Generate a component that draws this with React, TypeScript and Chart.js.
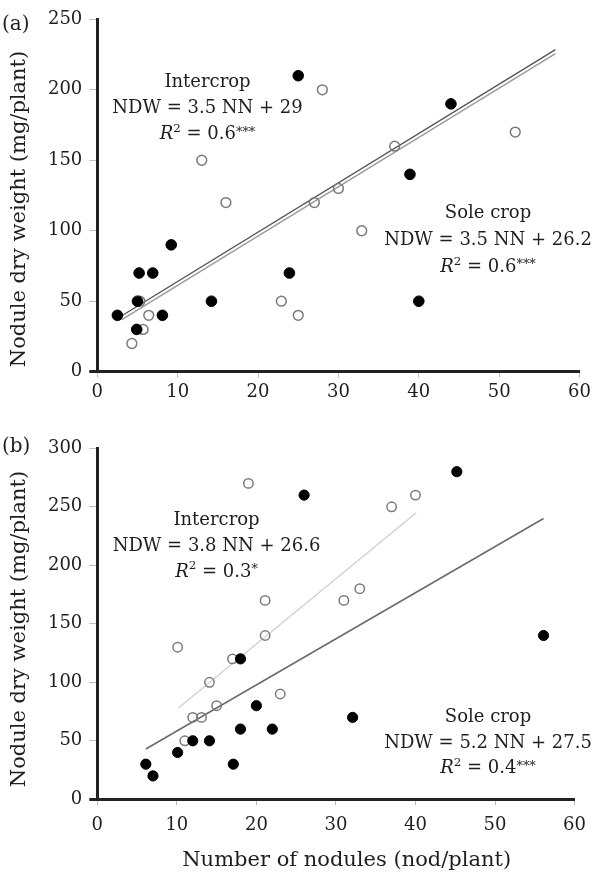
import React, { useEffect, useRef } from "react";
import { Chart, registerables } from "chart.js";
Chart.register(...registerables);

// ---------- data: panel (a) ----------
const aFilledX = [2.5, 5.2, 6.9, 9.2, 5.0, 4.9, 8.1, 14.2, 23.9, 25.0, 44.0, 38.9, 40.0];
const aFilledY = [40, 70, 70, 90, 50, 30, 40, 50, 70, 210, 190, 140, 50];
const aOpenX = [28.0, 13.0, 16.0, 27.0, 30.0, 5.3, 6.4, 5.7, 4.3, 22.9, 25.0, 37.0, 52.0, 32.9];
const aOpenY = [200, 150, 120, 120, 130, 50, 40, 30, 20, 50, 40, 160, 170, 100];
const aLineX = [3, 57];
const aInterLineY = [39.5, 228.5];
const aSoleLineY = [36.7, 225.7];

// ---------- data: panel (b) ----------
const bFilledX = [6.1, 7.0, 10.1, 12.0, 14.1, 18.0, 17.1, 20.0, 22.0, 18.0, 45.2, 56.1, 32.1, 26.0];
const bFilledY = [30, 20, 40, 50, 50, 60, 30, 80, 60, 120, 280, 140, 70, 260];
const bOpenX = [10.1, 17.0, 14.1, 15.0, 12.0, 13.1, 11.0, 21.1, 23.0, 21.1, 31.0, 19.0, 33.0, 37.0, 40.0];
const bOpenY = [130, 120, 100, 80, 70, 70, 50, 140, 90, 170, 170, 270, 180, 250, 260];
const bLightLineX = [10.2, 40.1];
const bLightLineY = [78, 245];
const bDarkLineX = [6.1, 56.1];
const bDarkLineY = [43, 240];

// ---------- ticks & text ----------
const xTicks = [0, 10, 20, 30, 40, 50, 60];
const yTicksA = [0, 50, 100, 150, 200, 250];
const yTicksB = [0, 50, 100, 150, 200, 250, 300];
const yTitle = "Nodule dry weight (mg/plant)";
const xTitle = "Number of nodules (nod/plant)";
const intercropA = ["Intercrop", "NDW = 3.5 NN + 29", "0.6", "***"];
const soleA = ["Sole crop", "NDW = 3.5 NN + 26.2", "0.6", "***"];
const intercropB = ["Intercrop", "NDW = 3.8 NN + 26.6", "0.3", "*"];
const soleB = ["Sole crop", "NDW = 5.2 NN + 27.5", "0.4", "***"];

const FONT = "'DejaVu Serif', serif";
const INK = "#1e1e1e";

type Seg = { t: string; it?: boolean; sup?: number; scale?: number };

function segFont(s: Seg, size: number) {
  const sz = s.scale ? size * s.scale : size;
  return `${s.it ? "italic " : ""}${sz}px ${FONT}`;
}

function drawSegs(ctx: CanvasRenderingContext2D, segs: Seg[], cx: number, base: number, size: number) {
  const widths = segs.map((s) => {
    ctx.font = segFont(s, size);
    return ctx.measureText(s.t).width;
  });
  const total = widths.reduce((a, b) => a + b, 0);
  let x = cx - total / 2;
  segs.forEach((s, i) => {
    ctx.font = segFont(s, size);
    ctx.fillText(s.t, x, base - (s.sup ? s.sup * size : 0));
    x += widths[i];
  });
}

function eqBlock(info: string[]): Seg[][] {
  return [
    [{ t: info[0] }],
    [{ t: info[1] }],
    [
      { t: "R", it: true },
      { t: "2", sup: 0.4, scale: 0.66 },
      { t: " = " + info[2] },
      { t: info[3], sup: 0.18, scale: 0.72 },
    ],
  ];
}

type Block = { segs: Seg[][]; cx: number; base: number; step: number };

type PanelCfg = {
  tag: string;
  tagBase: number;
  height: number;
  padTop: number;
  plotBottom: number;
  xTickPad: number;
  yTicks: number[];
  filled: { x: number; y: number }[];
  open: { x: number; y: number }[];
  lines: { pts: { x: number; y: number }[]; color: string; width: number }[];
  blocks: Block[];
  showXTitle: boolean;
  pointR: number;
};

const zip = (xs: number[], ys: number[]) => xs.map((x, i) => ({ x, y: ys[i] }));

const panelA: PanelCfg = {
  tag: "(a)",
  tagBase: 30,
  height: 420,
  padTop: 19.3,
  plotBottom: 371.7,
  xTickPad: 4,
  yTicks: yTicksA,
  filled: zip(aFilledX, aFilledY),
  open: zip(aOpenX, aOpenY),
  lines: [
    { pts: zip(aLineX, aSoleLineY), color: "#9a9a9a", width: 1.4 },
    { pts: zip(aLineX, aInterLineY), color: "#555555", width: 1.4 },
  ],
  blocks: [
    { segs: eqBlock(intercropA), cx: 207.5, base: 87, step: 26.2 },
    { segs: eqBlock(soleA), cx: 488, base: 218.3, step: 26.7 },
  ],
  showXTitle: false,
  pointR: 5.3,
};

const panelB: PanelCfg = {
  tag: "(b)",
  tagBase: 31.7,
  height: 455,
  padTop: 28.3,
  plotBottom: 379.3,
  xTickPad: 9,
  yTicks: yTicksB,
  filled: zip(bFilledX, bFilledY),
  open: zip(bOpenX, bOpenY),
  lines: [
    { pts: zip(bLightLineX, bLightLineY), color: "#cfcfcf", width: 1.3 },
    { pts: zip(bDarkLineX, bDarkLineY), color: "#6a6a6a", width: 1.5 },
  ],
  blocks: [
    { segs: eqBlock(intercropB), cx: 216.5, base: 105, step: 25.8 },
    { segs: eqBlock(soleB), cx: 488, base: 301.7, step: 25.8 },
  ],
  showXTitle: true,
  pointR: 5.1,
};

function PanelChart({ cfg, top }: { cfg: PanelCfg; top: number }) {
  const ref = useRef<HTMLCanvasElement | null>(null);
  useEffect(() => {
    if (!ref.current) return;
    const overlay = {
      id: "overlay",
      afterDraw(chart: any) {
        const ctx: CanvasRenderingContext2D = chart.ctx;
        ctx.save();
        ctx.fillStyle = INK;
        ctx.textBaseline = "alphabetic";
        // panel tag
        ctx.textAlign = "left";
        ctx.font = `20px ${FONT}`;
        ctx.fillText(cfg.tag, 2, cfg.tagBase);
        // y title
        ctx.save();
        ctx.translate(25, 209);
        ctx.rotate(-Math.PI / 2);
        ctx.textAlign = "center";
        ctx.font = `21px ${FONT}`;
        ctx.fillText(yTitle, 0, 0);
        ctx.restore();
        // x title
        if (cfg.showXTitle) {
          ctx.textAlign = "center";
          ctx.font = `21px ${FONT}`;
          ctx.fillText(xTitle, 346.7, 445.7);
        }
        // equation blocks
        ctx.textAlign = "left";
        cfg.blocks.forEach((b) => {
          b.segs.forEach((line, i) => drawSegs(ctx, line, b.cx, b.base + i * b.step, 18));
        });
        ctx.restore();
      },
    };
    const tickFont = { family: FONT, size: 18 };
    const chart = new Chart(ref.current, {
      type: "scatter",
      data: {
        datasets: [
          {
            data: cfg.filled,
            pointRadius: cfg.pointR,
            pointBackgroundColor: "#000",
            pointBorderColor: "#000",
            pointBorderWidth: 1,
            showLine: false,
          },
          {
            data: cfg.open,
            pointRadius: cfg.pointR - 0.4,
            pointBackgroundColor: "rgba(255,255,255,0)",
            pointBorderColor: "#7a7a7a",
            pointBorderWidth: 1.5,
            showLine: false,
          },
          ...cfg.lines.map((l) => ({
            data: l.pts,
            showLine: true,
            pointRadius: 0,
            borderColor: l.color,
            borderWidth: l.width,
            fill: false,
          })),
        ] as any,
      },
      options: {
        animation: false,
        responsive: true,
        maintainAspectRatio: false,
        layout: { padding: { left: 0, right: 13, top: cfg.padTop, bottom: 0 } },
        plugins: { legend: { display: false }, tooltip: { enabled: false } },
        scales: {
          x: {
            type: "linear",
            min: xTicks[0],
            max: xTicks[xTicks.length - 1],
            afterBuildTicks: (s: any) => {
              s.ticks = xTicks.map((v) => ({ value: v }));
            },
            ticks: { font: tickFont, color: INK, padding: cfg.xTickPad, maxRotation: 0 },
            grid: { drawOnChartArea: false, drawTicks: true, tickLength: 6, tickColor: "#bdbdbd", tickWidth: 1 },
            border: { display: true, color: "#222", width: 3 },
            afterFit: (s: any) => {
              s.height = cfg.height - cfg.plotBottom;
            },
          },
          y: {
            type: "linear",
            min: cfg.yTicks[0],
            max: cfg.yTicks[cfg.yTicks.length - 1],
            afterBuildTicks: (s: any) => {
              s.ticks = cfg.yTicks.map((v) => ({ value: v }));
            },
            ticks: { font: tickFont, color: INK, padding: 7 },
            grid: {
              drawOnChartArea: false,
              drawTicks: true,
              tickLength: 8,
              tickColor: (c: any) => (c.tick && c.tick.value === 0 ? "#222" : "#bdbdbd"),
              tickWidth: (c: any) => (c.tick && c.tick.value === 0 ? 3 : 1),
            },
            border: { display: true, color: "#222", width: 3 },
            afterFit: (s: any) => {
              s.width = 97.3;
            },
          },
        },
      } as any,
      plugins: [overlay],
    });
    return () => chart.destroy();
  }, [cfg]);
  return (
    <div style={{ position: "absolute", left: 0, top, width: 595, height: cfg.height }}>
      <canvas ref={ref} />
    </div>
  );
}

export default function App() {
  return (
    <div style={{ position: "absolute", left: 0, top: 0, width: 595, height: 875, background: "#fff" }}>
      <PanelChart cfg={panelA} top={0} />
      <PanelChart cfg={panelB} top={420} />
    </div>
  );
}
